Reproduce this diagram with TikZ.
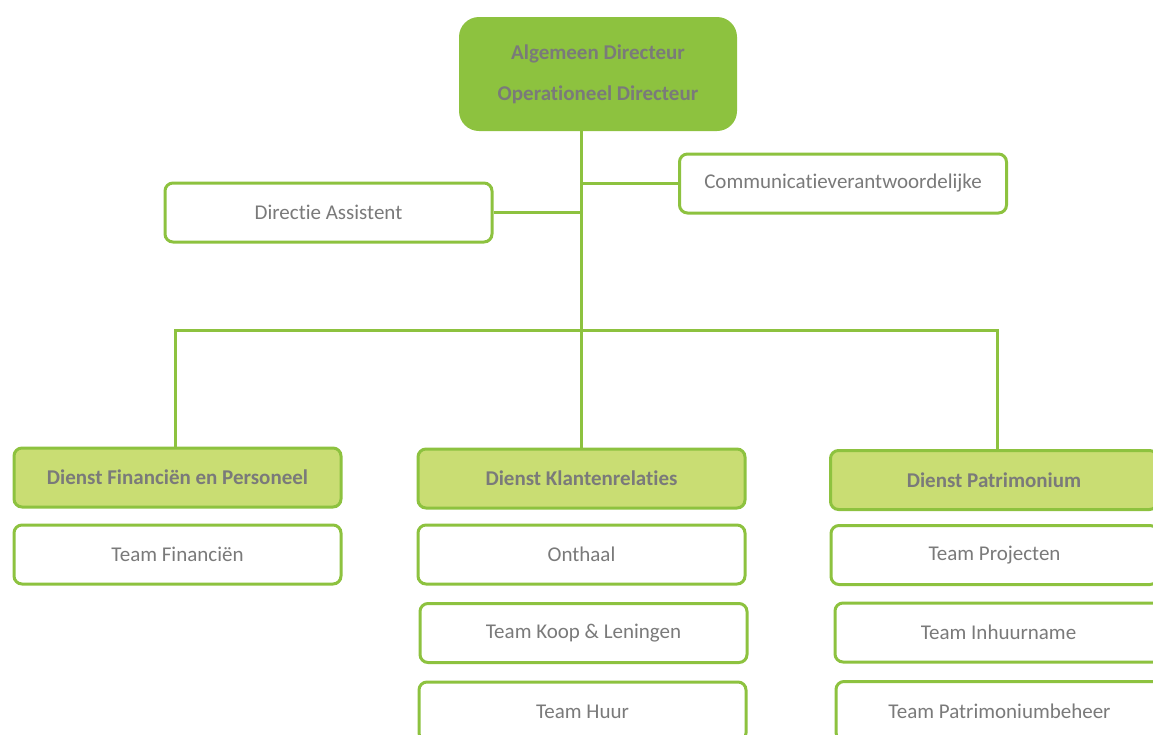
\documentclass[tikz,border=0pt]{standalone}
\usepackage{fontspec}
\setmainfont[Ligatures=NoCommon]{Carlito}
\usetikzlibrary{positioning}
\definecolor{orggreen}{RGB}{141,194,63}
\definecolor{dienstgreen}{RGB}{201,221,115}
\definecolor{txtgray}{RGB}{122,122,122}

\begin{document}
\begin{tikzpicture}[x=1pt,y=-1pt,
    box/.style={draw=orggreen, line width=3pt, rounded corners=8pt, fill=white,
        minimum width=327pt, minimum height=59pt, inner sep=0pt, text=txtgray,
        font=\fontsize{21}{25}\selectfont},
    dienst/.style={box, fill=dienstgreen, font=\fontsize{21}{25}\selectfont\bfseries},
    link/.style={draw=orggreen, line width=3pt}]
    \useasboundingbox (0,0) rectangle (1153,734);
    \clip (0,0) rectangle (1153,734);

    % directie
    \node[fill=orggreen, rounded corners=20pt, minimum width=278pt, minimum height=114pt,
        text=txtgray, align=center, font=\fontsize{21}{41}\selectfont\bfseries]
        (top) at (598,74) {Algemeen Directeur\\Operationeel Directeur};
    \node[box] (assist) at (328.5,212.5) {Directie Assistent};
    \node[box] (comm) at (843,183.5) {Communicatieverantwoordelijke};

    % diensten
    \node[dienst] (dfin) at (177.5,477.5) {Dienst Financiën en Personeel};
    \node[dienst] (dklant) at (581.5,478.5) {Dienst Klantenrelaties};
    \node[dienst] (dpat) at (994,480) {Dienst Patrimonium};

    % teams
    \node[box] (tfin) at (177.5,554.5) {Team Financiën};
    \node[box] (onthaal) at (581.5,554.5) {Onthaal};
    \node[box] (koop) at (583.5,633) {Team Koop \& Leningen};
    \node[box] (huur) at (582.5,711.5) {Team Huur};
    \node[box] (proj) at (994.5,555) {Team Projecten};
    \node[box] (inhuur) at (998.5,632.5) {Team Inhuurname};
    \node[box] (patbeheer) at (999.5,711) {Team Patrimoniumbeheer};

    % lijnen
    \coordinate (bus) at (581,330);
    \draw[link] (dklant.north) -- (dklant.north |- top.south);
    \draw[link] (assist.east) -- (assist.east -| dklant.north);
    \draw[link] (comm.west) -- (comm.west -| dklant.north);
    \draw[link] ([xshift=-2.5pt]dfin.north) |- (bus) -| ([xshift=3pt]dpat.north);
\end{tikzpicture}
\end{document}
